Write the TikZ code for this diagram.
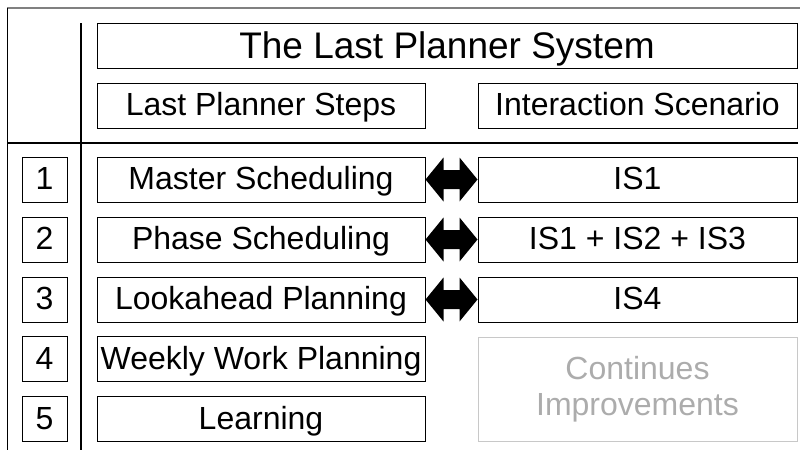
\documentclass[tikz,border=0pt]{standalone}
\usepackage{fontspec}
\setmainfont{Liberation Sans}
\usetikzlibrary{calc}

\definecolor{framegray}{RGB}{128,128,128}
\definecolor{softtext}{RGB}{172,172,172}
\definecolor{softline}{RGB}{200,200,200}
\newcommand{\rowfont}{\fontsize{32}{36}\selectfont}
\newcommand{\headfont}{\fontsize{37}{40}\selectfont}

% fat double arrow from the east side of #1 to the west side of #2
\newcommand{\linkarrow}[2]{%
  \fill (#1.east) -- ++(18,-22) -- ++(0,12.5) -- ($(#2.west)+(-18,-9.5)$)
    -- ++(0,-12.5) -- (#2.west) -- ++(-18,22) -- ++(0,-12.5)
    -- ($(#1.east)+(18,9.5)$) -- ++(0,12.5) -- cycle;}

\begin{document}
\begin{tikzpicture}[x=1pt,y=-1pt,
  box/.style={rectangle,draw,line width=1pt,minimum height=45pt,inner sep=0pt,
    text height=24pt,text depth=4pt,font=\rowfont},
  numbox/.style={box,minimum width=45pt},
  stepbox/.style={box,minimum width=328pt},
  scenbox/.style={box,minimum width=319pt}]
\useasboundingbox (0,0) rectangle (800,450);

% frame and rules
\draw[framegray,line width=1.3pt] (7,8) -- (800,8);
\draw[line width=0.9pt] (7,8) -- (7,450);
\draw[line width=2pt] (81,23) -- (81,450);
\draw[line width=2pt] (7,143) -- (798,143);

% header
\node[box,minimum width=700pt,font=\headfont,text height=28pt,text depth=3pt] (LPS) at (447,45.5) {The Last Planner System};
\node[stepbox] (steps) at (261,105.5) {Last Planner Steps};
\node[scenbox] (scen) at (637.5,105.5) {Interaction Scenario};

% step numbers
\node[numbox] (N1) at (44.5,179.5) {1};
\node[numbox] (N2) at (44.5,239.5) {2};
\node[numbox] (N3) at (44.5,299.5) {3};
\node[numbox] (N4) at (44.5,359) {4};
\node[numbox] (N5) at (44.5,419) {5};

% steps
\node[stepbox] (MS) at (261,179.5) {Master Scheduling};
\node[stepbox] (PS) at (261,239.5) {Phase Scheduling};
\node[stepbox] (LAP) at (261,299.5) {Lookahead Planning};
\node[stepbox] (WWP) at (261,359) {Weekly Work Planning};
\node[stepbox] (LRN) at (261,419) {Learning};

% scenarios
\node[scenbox] (IS1) at (637.5,179.5) {IS1};
\node[scenbox] (IS123) at (637.5,239.5) {IS1 + IS2 + IS3};
\node[scenbox] (IS4) at (637.5,299.5) {IS4};
\node[rectangle,draw=softline,line width=1pt,text=softtext,font=\rowfont,align=center,
  minimum width=319pt,minimum height=104pt,inner sep=0pt] (CI) at (637.5,389) {Continues\\Improvements};

\linkarrow{MS}{IS1}
\linkarrow{PS}{IS123}
\linkarrow{LAP}{IS4}
\end{tikzpicture}
\end{document}
